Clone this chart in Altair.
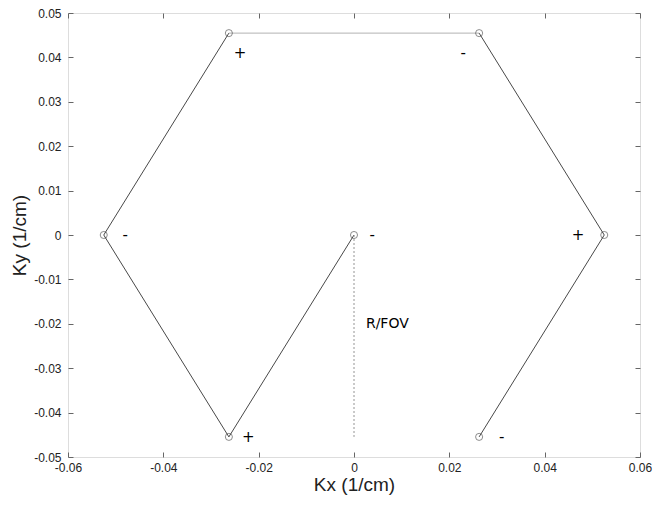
import altair as alt
import pandas as pd

# Trajectory vertices (in path order)
path_kx = [0.0, -0.02625, -0.0525, -0.02625, 0.02625, 0.0525, 0.02625]
path_ky = [0.0, -0.04547, 0.0, 0.04547, 0.04547, 0.0, -0.04547]
# colour class of each segment (segment i joins vertex i and i+1)
seg_class = ["dark", "dark", "dark", "light", "dark", "dark"]

# Gradient sign annotations
sign_text = ["-", "+", "-", "-", "+", "+", "-"]
sign_kx = [0.0038, -0.0239, 0.0229, -0.048, 0.047, -0.0222, 0.031]
sign_ky = [0.0, 0.041, 0.041, 0.0, 0.0, -0.0455, -0.0455]

# R/FOV marker line and label
rfov_kx = [0.0]
rfov_ky_top = [0.0]
rfov_ky_bottom = [-0.04547]
rfov_label = ["R/FOV"]
rfov_label_kx = [0.0025]
rfov_label_ky = [-0.02]

x_ticks = [-0.06, -0.04, -0.02, 0, 0.02, 0.04, 0.06]
y_ticks = [-0.05, -0.04, -0.03, -0.02, -0.01, 0, 0.01, 0.02, 0.03, 0.04, 0.05]

pts = pd.DataFrame({"kx": path_kx, "ky": path_ky})
segs = pd.DataFrame({
    "kx": path_kx[:-1], "ky": path_ky[:-1],
    "kx2": path_kx[1:], "ky2": path_ky[1:],
    "cls": seg_class,
})
signs = pd.DataFrame({"t": sign_text, "kx": sign_kx, "ky": sign_ky})
rfov = pd.DataFrame({"kx": rfov_kx, "y1": rfov_ky_top, "y2": rfov_ky_bottom})
rlab = pd.DataFrame({"t": rfov_label, "kx": rfov_label_kx, "ky": rfov_label_ky})

xs = alt.Scale(domain=[-0.06, 0.06], nice=False, zero=False)
ys = alt.Scale(domain=[-0.05, 0.05], nice=False, zero=False)

label_expr = "replace(format(datum.value, '~g'), '\u2212', '-')"

common_axis = dict(
    domain=False, grid=False, tickSize=5, offset=-5, tickColor="#666",
    labelFont="Liberation Sans", labelFontSize=12, labelColor="#222",
    titleFont="Liberation Sans", titleFontSize=19, titleFontWeight="normal",
    titleColor="#222",
)

x_bottom = alt.X("kx:Q", scale=xs, axis=alt.Axis(
    orient="bottom", values=x_ticks, title="Kx (1/cm)", labelPadding=5,
    titlePadding=2, labelFlush=False, labelExpr=label_expr, **common_axis))
y_left = alt.Y("ky:Q", scale=ys, axis=alt.Axis(
    orient="left", values=y_ticks, title="Ky (1/cm)", labelPadding=7,
    titlePadding=4, labelFlush=False, labelExpr=label_expr, **common_axis))

x_top = alt.X("kx:Q", scale=xs, axis=alt.Axis(
    orient="top", values=x_ticks, title=None, labels=False, **common_axis))
y_right = alt.Y("ky:Q", scale=ys, axis=alt.Axis(
    orient="right", values=y_ticks, title=None, labels=False, **common_axis))

xn = alt.X("kx:Q", axis=None)
yn = alt.Y("ky:Q", axis=None)

segments = alt.Chart(segs).mark_rule(strokeWidth=0.9).encode(
    x=x_bottom, y=y_left, x2="kx2:Q", y2="ky2:Q",
    color=alt.Color("cls:N", scale=alt.Scale(domain=["dark", "light"],
                                             range=["#333333", "#aaaaaa"]),
                    legend=None),
)

frame = alt.Chart(pts).mark_point(opacity=0).encode(x=x_top, y=y_right)

points = alt.Chart(pts).mark_point(
    shape="circle", size=50, filled=False, color="#333", strokeWidth=0.8
).encode(x=xn, y=yn)

rfov_line = alt.Chart(rfov).mark_rule(
    strokeDash=[2, 2], color="#888", strokeWidth=0.9
).encode(x=xn, y=alt.Y("y1:Q", axis=None), y2="y2:Q")

sign_marks = alt.Chart(signs).mark_text(
    font="DejaVu Sans", fontSize=15, color="#000", align="center", baseline="middle"
).encode(x=xn, y=yn, text="t:N")

rfov_text = alt.Chart(rlab).mark_text(
    font="DejaVu Sans", fontSize=14, color="#000", align="left", baseline="middle"
).encode(x=xn, y=yn, text="t:N")

chart = alt.layer(
    segments, frame, points, rfov_line, sign_marks, rfov_text
).resolve_axis(x="independent", y="independent").properties(
    width=572, height=444,
    autosize=alt.AutoSizeParams(type="none"),
    padding={"left": 60, "top": 5, "right": 15, "bottom": 40},
).configure_view(stroke="#555", strokeWidth=1).configure(background="white")

chart.save("out.html", embed_options={"renderer": "svg", "actions": False})
